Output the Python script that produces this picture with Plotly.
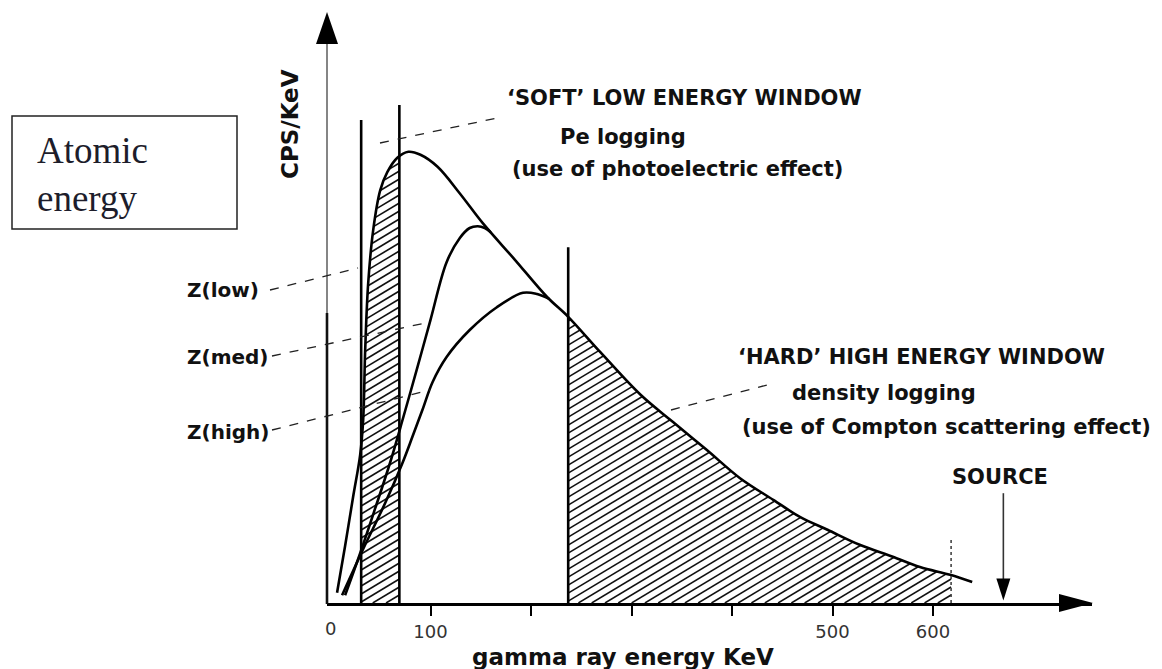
import numpy as np
import plotly.graph_objects as go

# Gamma-ray spectra for three formations (energy in KeV, count rate in arbitrary CPS/KeV units)
ENERGY_LOW = [7, 15, 23, 30, 33, 35, 38, 43, 50, 57, 67, 78, 90, 107, 129, 152, 184, 216,
              237, 269, 309, 341, 375, 408, 441, 468, 495, 527, 560, 587, 617, 639]
CPS_LOW = [1.7, 9.5, 17.7, 24.7, 30.5, 42.2, 53.3, 62.2, 68.8, 71.8, 74.2, 75.2, 74.7, 72.7,
           68.3, 63.3, 57.2, 51.0, 47.7, 41.8, 34.7, 30.2, 25.5, 20.8, 17.2, 14.3, 12.2, 9.7,
           7.7, 6.0, 4.7, 3.5]

ENERGY_MED = [15, 30, 45, 60, 73, 87, 100, 116, 129, 139, 147, 154, 160]
CPS_MED = [1.3, 8.3, 15.8, 23.5, 31.0, 39.3, 47.2, 56.8, 60.8, 62.5, 62.8, 62.5, 61.8]

ENERGY_HIGH = [12, 33, 55, 72, 82, 92, 102, 116, 139, 166, 192, 206, 218]
CPS_HIGH = [1.3, 9.0, 16.7, 23.3, 27.7, 32.2, 36.8, 41.0, 45.5, 49.3, 51.7, 51.5, 50.7]

# Counting windows (KeV) and the height of their marker lines
SOFT_WINDOW = [31, 69]
HARD_WINDOW = [237, 618]
WINDOW_LINE_ENERGY = [31, 69, 237]
WINDOW_LINE_TOP = [80.5, 83.0, 59.3]
HARD_LIMIT_TOP = 11.0
SOURCE_ENERGY = 670
SOURCE_ARROW_TOP = 18.3

TICK_VALUES = [100, 200, 300, 400, 500, 600]
TICK_TEXT = ["100", "", "", "", "500", "600"]
ORIGIN_LABEL = "0"

# Page geometry
W, H = 1162, 669
ML, MR, MT, MB = 327, 70, 3, 66
X_RANGE = [-3.0, 758.2]
Y_RANGE = [0.0, 100.0]
PX_PER_X = (W - ML - MR) / (X_RANGE[1] - X_RANGE[0])
PX_PER_Y = (H - MT - MB) / (Y_RANGE[1] - Y_RANGE[0])


def paper_x(px):
    return (px - ML) / (W - ML - MR)


def paper_y(py):
    return (H - MB - py) / (H - MT - MB)


def hatch_segments(E, C, lo, hi, angle_deg=31, gap_px=8.0, n=3000):
    """Diagonal hatch lines clipped to the area under the curve between lo and hi."""
    slope = np.tan(np.radians(angle_deg)) * PX_PER_X / PX_PER_Y
    step = gap_px / PX_PER_Y
    xs = np.linspace(lo, hi, n)
    top = np.interp(xs, E, C)
    sx, sy = [], []
    for k in np.arange(-slope * hi, top.max(), step):
        line = slope * xs + k
        idx = np.flatnonzero((line >= 0) & (line <= top))
        if idx.size < 2:
            continue
        for run in np.split(idx, np.flatnonzero(np.diff(idx) > 1) + 1):
            if run.size < 2:
                continue
            sx += [xs[run[0]], xs[run[-1]], None]
            sy += [line[run[0]], line[run[-1]], None]
    return sx, sy


fig = go.Figure()

for lo, hi in (SOFT_WINDOW, HARD_WINDOW):
    hx, hy = hatch_segments(ENERGY_LOW, CPS_LOW, lo, hi)
    fig.add_trace(go.Scatter(x=hx, y=hy, mode="lines",
                             line=dict(color="#111", width=1.6),
                             hoverinfo="skip"))

curve_line = dict(color="black", width=2.6, shape="spline", smoothing=1.0)
for e, c in ((ENERGY_LOW, CPS_LOW), (ENERGY_MED, CPS_MED), (ENERGY_HIGH, CPS_HIGH)):
    fig.add_trace(go.Scatter(x=e, y=c, mode="lines", line=curve_line))

for e, top in zip(WINDOW_LINE_ENERGY, WINDOW_LINE_TOP):
    fig.add_trace(go.Scatter(x=[e, e], y=[0, top], mode="lines",
                             line=dict(color="black", width=2.6)))

fig.add_trace(go.Scatter(x=[HARD_WINDOW[1]] * 2, y=[0, HARD_LIMIT_TOP], mode="lines",
                         line=dict(color="#444", width=1.6, dash="dot")))

fig.add_trace(go.Scatter(x=[SOURCE_ENERGY] * 2, y=[3.0, SOURCE_ARROW_TOP], mode="lines",
                         line=dict(color="#333", width=1.6)))

shapes = []
# y axis: faint upper part, solid lower part
shapes.append(dict(type="line", xref="paper", yref="paper", x0=0, x1=0,
                   y0=paper_y(40), y1=paper_y(313), line=dict(color="#858585", width=2)))
shapes.append(dict(type="line", xref="paper", yref="paper", x0=0, x1=0,
                   y0=paper_y(313), y1=paper_y(604), line=dict(color="#111", width=2.6)))
# arrow heads
shapes.append(dict(type="path", xref="paper", yref="paper", xsizemode="pixel", ysizemode="pixel",
                   xanchor=paper_x(327), yanchor=paper_y(12),
                   path="M0,0 L-11,-32 L11,-32 Z", fillcolor="black", line=dict(width=0)))
shapes.append(dict(type="path", xref="paper", yref="paper", xsizemode="pixel", ysizemode="pixel",
                   xanchor=paper_x(1093), yanchor=paper_y(603),
                   path="M0,0 L-34,9 L-34,-9 Z", fillcolor="black", line=dict(width=0)))
shapes.append(dict(type="path", xref="x", yref="y", xsizemode="pixel", ysizemode="pixel",
                   xanchor=SOURCE_ENERGY, yanchor=0.4,
                   path="M0,0 L-7,22 L7,22 Z", fillcolor="black", line=dict(width=0)))

# dashed leader lines from labels to the curves
leaders = [((380, 143), (497, 118)), ((270, 290), (358, 268)), ((272, 356), (430, 322)),
           ((272, 430), (430, 390)), ((671, 410), (767, 385))]
for (ax0, ay0), (ax1, ay1) in leaders:
    shapes.append(dict(type="line", xref="paper", yref="paper",
                       x0=paper_x(ax0), y0=paper_y(ay0), x1=paper_x(ax1), y1=paper_y(ay1),
                       line=dict(color="#222", width=1.3, dash="dash")))

# framed caption
shapes.append(dict(type="rect", xref="paper", yref="paper",
                   x0=paper_x(12), x1=paper_x(237), y0=paper_y(116), y1=paper_y(229),
                   line=dict(color="#222", width=1.5), fillcolor="white"))

LABEL_FONT = dict(family="DejaVu Sans", size=21, color="#111", weight="bold")
Z_FONT = dict(family="DejaVu Sans", size=20, color="#111", weight="bold")
AXIS_FONT = dict(family="DejaVu Sans", size=23, color="#111", weight="bold")


def text(px, py, s, font=LABEL_FONT, xanchor="left", **kw):
    return dict(xref="paper", yref="paper", x=paper_x(px), y=paper_y(py), text=s,
                showarrow=False, xanchor=xanchor, yanchor="middle", font=font, **kw)


annotations = [
    text(505, 98, "\u2018SOFT\u2019 LOW ENERGY WINDOW"),
    text(558, 137, "Pe logging"),
    text(510, 169, "(use of photoelectric effect)"),
    text(736, 357, "\u2018HARD\u2019 HIGH ENERGY WINDOW"),
    text(790, 393, "density logging"),
    text(740, 427, "(use of Compton scattering effect)"),
    text(950, 477, "SOURCE"),
    text(185, 290, "Z(low)", font=Z_FONT),
    text(185, 357, "Z(med)", font=Z_FONT),
    text(185, 432, "Z(high)", font=Z_FONT),
    text(290, 124, "CPS/KeV", font=AXIS_FONT, xanchor="center", textangle=-90),
    text(470, 657, "gamma ray energy KeV", font=AXIS_FONT),
    text(35, 174, "Atomic<br>energy", align="left",
         font=dict(family="Liberation Serif", size=37, color="#1d1d2b")),
    dict(xref="x", yref="paper", x=0, y=paper_y(628), text=ORIGIN_LABEL, showarrow=False,
         xanchor="center", yanchor="middle",
         font=dict(family="DejaVu Sans", size=18, color="#333")),
]

fig.update_layout(
    width=W, height=H,
    margin=dict(l=ML, r=MR, t=MT, b=MB, pad=0),
    paper_bgcolor="white", plot_bgcolor="white",
    showlegend=False,
    shapes=shapes,
    annotations=annotations,
    xaxis=dict(range=X_RANGE, showgrid=False, zeroline=False,
               showline=True, linecolor="black", linewidth=3,
               ticks="outside", ticklen=10, tickwidth=2, tickcolor="black",
               tickvals=TICK_VALUES, ticktext=TICK_TEXT,
               tickfont=dict(family="DejaVu Sans", size=18, color="#333"),
               fixedrange=True),
    yaxis=dict(range=Y_RANGE, visible=False, fixedrange=True),
)

fig.write_html("out.html", config={"displayModeBar": False})
